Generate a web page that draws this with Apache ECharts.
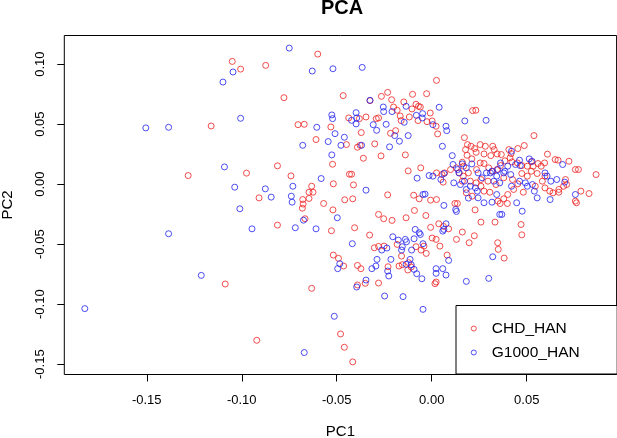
<!DOCTYPE html>
<html>
<head>
<meta charset="utf-8">
<script src="https://cdn.jsdelivr.net/npm/echarts@6/dist/echarts.min.js"></script>
<style>
html,body{margin:0;padding:0;background:#fff;}
#chart{width:617px;height:438px;}
</style>
</head>
<body>
<div id="chart"></div>
<script>
// Series names
const seriesNames = ['CHD_HAN', 'G1000_HAN'];

// Tick values
const xTicks = [-0.15, -0.10, -0.05, 0.00, 0.05];
const yTicks = [-0.15, -0.10, -0.05, 0.00, 0.05, 0.10];

// CHD_HAN points [PC1, PC2]
const chdHan = [
[0.0025,0.0865],[-0.0600,0.1084],[-0.1050,0.1023],[-0.1006,0.0959],[-0.0874,0.0990],[-0.0778,0.0721],[-0.1161,0.0485],[-0.1282,0.0072],[-0.0975,0.0092],[-0.0812,0.0153],[-0.0741,0.0069],[-0.0909,-0.0114],[-0.1087,-0.0832],[-0.0812,-0.0341],[-0.0921,-0.1301],[-0.0632,-0.0868],[-0.0480,-0.1248],[-0.0460,-0.1359],[-0.0416,-0.1481],
[-0.0704,0.0496],[-0.0671,0.0499],[-0.0609,0.0372],[-0.0466,0.0738],[-0.0522,0.0166],[-0.0518,0.0003],[-0.0433,0.0083],[-0.0422,0.0083],[-0.0412,-0.0006],[-0.0458,-0.0130],[-0.0416,-0.0122],[-0.0632,-0.0017],[-0.0646,-0.0067],[-0.0625,-0.0067],[-0.0679,-0.0128],[-0.0677,-0.0166],[-0.0681,-0.0200],[-0.0646,-0.0119],[-0.0569,-0.0161],[-0.0520,-0.0214],[-0.0667,-0.0288],[-0.0528,-0.0388],[-0.0406,-0.0363],[-0.0327,-0.0424],[-0.0518,-0.0591],[-0.0491,-0.0618],[-0.0464,-0.0682],[-0.0391,-0.0677],[-0.0373,-0.0704],[-0.0391,-0.0840],[-0.0350,-0.0826],[-0.0280,-0.0824],
[-0.0437,0.0552],[-0.0371,0.0430],[-0.0449,0.0330],[-0.0391,0.0308],[-0.0360,0.0216],[-0.0377,0.0324],[-0.0325,0.0696],[-0.0265,0.0732],[-0.0232,0.0765],[-0.0211,0.0704],[-0.0201,0.0643],[-0.0147,0.0685],[-0.0101,0.0749],[-0.0027,0.0754],[-0.0070,0.0649],[-0.0104,0.0627],[-0.0008,0.0593],[0.0002,0.0527],[0.0031,0.0419],[-0.0267,0.0236],[-0.0139,0.0244],[-0.0300,0.0336],[-0.0232,-0.0089],[-0.0124,0.0111],[-0.0058,0.0136],[-0.0095,-0.0092],[-0.0066,-0.0122],[-0.0091,-0.0219],[-0.0135,-0.0280],[-0.0031,-0.0261],[-0.0006,-0.0133],[0.0025,-0.0128],[-0.0280,-0.0252],[-0.0253,-0.0288],[-0.0209,-0.0302],[-0.0006,-0.0360],[0.0037,-0.0330],[0.0062,-0.0352],[0.0089,-0.0372],[0.0002,-0.0449],[0.0023,-0.0460],[0.0043,-0.0516],[0.0081,-0.0591],[0.0023,-0.0815],[0.0017,-0.0829],[-0.0122,-0.0654],[-0.0126,-0.0715],[-0.0108,-0.0690],[-0.0172,-0.0682],[-0.0230,-0.0688],[-0.0302,-0.0530],[-0.0280,-0.0519],[-0.0251,-0.0516],[-0.0182,-0.0502],[-0.0159,-0.0599],[-0.0041,-0.0516],[-0.0056,-0.0549],[0.0130,-0.0460],[0.0122,-0.0161],[0.0161,-0.0399],[0.0197,-0.0488],[0.0224,-0.0430],[0.0259,-0.0316],[0.0333,-0.0316],[0.0347,-0.0488],[0.0350,-0.0543],[0.0381,-0.0616],[0.0470,-0.0336],[0.0474,-0.0422],[0.0228,-0.0214],
[-0.0292,0.0546],[-0.0280,0.0552],[-0.0346,0.0560],[-0.0190,0.0446],[-0.0217,0.0424],[-0.0161,0.0530],[-0.0118,0.0560],[-0.0072,0.0530],[-0.0025,0.0521],[-0.0083,0.0666],[-0.0182,0.0616],[-0.0166,0.0568],[-0.0381,0.0546],[0.0023,0.0483],[-0.0060,0.0643],
[0.0172,0.0388],[0.0188,0.0330],[0.0207,0.0316],[0.0178,0.0288],[0.0226,0.0297],[0.0255,0.0330],[0.0282,0.0316],[0.0321,0.0316],[0.0329,0.0288],[0.0311,0.0238],[0.0275,0.0252],[0.0234,0.0266],[0.0186,0.0241],[0.0211,0.0211],[0.0161,0.0183],[0.0255,0.0177],[0.0275,0.0172],[0.0344,0.0252],[0.0366,0.0247],[0.0406,0.0288],[0.0418,0.0255],[0.0412,0.0219],[0.0453,0.0297],[0.0487,0.0322],[0.0538,0.0405],[0.0609,0.0250],[0.0650,0.0205],[0.0665,0.0200],[0.0594,0.0177],[0.0559,0.0172],[0.0524,0.0186],[0.0534,0.0150],[0.0576,0.0150],[0.0503,0.0150],[0.0474,0.0155],[0.0451,0.0177],[0.0422,0.0186],[0.0385,0.0194],[0.0362,0.0155],[0.0344,0.0122],[0.0321,0.0108],[0.0300,0.0136],[0.0236,0.0122],[0.0193,0.0094],[0.0166,0.0067],[0.0203,0.0025],[0.0234,0.0011],[0.0259,0.0039],[0.0296,0.0025],[0.0338,-0.0003],[0.0379,0.0053],[0.0425,0.0039],[0.0474,0.0089],[0.0503,0.0067],[0.0524,0.0108],[0.0555,0.0089],[0.0596,0.0067],[0.0582,0.0025],[0.0545,-0.0017],[0.0596,-0.0031],[0.0621,-0.0058],[0.0669,-0.0044],[0.0704,0.0039],[0.0756,0.0122],[0.0772,0.0122],[0.0785,-0.0058],[0.0828,-0.0078],[0.0865,0.0080],[0.0756,-0.0141],[0.0762,-0.0155],[0.0710,-0.0003],[0.0694,-0.0017],[0.0669,-0.0067],[0.0638,-0.0072],[0.0482,-0.0067],[0.0453,0.0003],[0.0431,-0.0044],[0.0400,-0.0086],[0.0379,-0.0122],[0.0348,-0.0141],[0.0306,-0.0067],[0.0275,-0.0058],[0.0259,-0.0017],[0.0213,-0.0100],[0.0182,-0.0072],[0.0135,-0.0161],[0.0360,-0.0161],[0.0398,-0.0161],[0.0168,0.0150],[0.0130,0.0136],[0.0145,0.0094],[0.0161,0.0025],[0.0099,0.0122],[0.0068,0.0094],[0.0054,0.0080],[0.0060,0.0017],[0.0025,0.0094],
[-0.0155,-0.0671],[-0.0029,-0.0577],[-0.0083,-0.0521],[0.0215,0.0613],[0.0232,0.0616],[0.0722,0.0191],[-0.0531,0.0477]
];

// G1000_HAN points [PC1, PC2]
const g1000Han = [
[-0.0750,0.1134],[-0.1099,0.0851],[-0.1046,0.0935],[-0.0629,0.0943],[-0.0520,0.0962],[-0.0366,0.0973],[-0.1505,0.0469],[-0.1385,0.0474],[-0.1006,0.0549],[-0.1091,0.0144],[-0.1037,-0.0025],[-0.1010,-0.0205],[-0.0946,-0.0372],[-0.0876,-0.0039],[-0.0845,-0.0108],[-0.1385,-0.0413],[-0.1213,-0.0760],[-0.1826,-0.1037],[-0.0671,-0.1403],[-0.0513,-0.1101],[-0.0046,-0.1043],[0.0182,-0.0810],[0.0300,-0.0785],[0.0321,-0.0605],[0.0174,0.0527],[0.0286,0.0532],
[-0.0526,0.0577],[-0.0522,0.0546],[-0.0509,0.0421],[-0.0545,0.0355],[-0.0478,0.0324],[-0.0460,0.0391],[-0.0526,0.0244],[-0.0605,0.0474],[-0.0679,0.0324],[-0.0422,0.0532],[-0.0398,0.0596],[-0.0395,0.0552],[-0.0398,0.0502],[-0.0369,0.0324],[-0.0325,0.0699],[-0.0308,0.0496],[-0.0290,0.0449],[-0.0255,0.0643],[-0.0253,0.0605],[-0.0240,0.0499],[-0.0209,0.0605],[-0.0222,0.0311],[-0.0195,0.0405],[-0.0170,0.0358],[-0.0145,0.0516],[-0.0135,0.0649],[-0.0124,0.0405],[-0.0081,0.0574],[-0.0050,0.0552],[-0.0048,0.0588],[0.0039,0.0641],[0.0006,0.0496],[0.0075,0.0483],[0.0079,0.0446],[0.0056,0.0316],[0.0108,0.0238],
[0.0112,0.0164],[0.0161,0.0169],[0.0182,0.0136],[0.0211,0.0169],[0.0137,0.0122],[0.0143,0.0094],[0.0116,0.0011],[0.0151,-0.0003],[0.0172,0.0025],[0.0182,-0.0044],[0.0193,-0.0116],[0.0203,-0.0017],[0.0230,-0.0031],[0.0240,-0.0058],[0.0265,0.0053],[0.0244,0.0094],[0.0288,0.0094],[0.0317,0.0108],[0.0348,0.0122],[0.0342,0.0067],[0.0327,0.0025],[0.0358,0.0011],[0.0379,0.0094],[0.0400,0.0150],[0.0416,0.0080],[0.0441,0.0164],[0.0466,0.0155],[0.0513,0.0211],[0.0528,0.0191],[0.0462,0.0025],[0.0493,0.0011],[0.0503,-0.0017],[0.0530,-0.0003],[0.0540,-0.0058],[0.0555,-0.0114],[0.0623,-0.0128],[0.0596,0.0094],[0.0607,0.0067],[0.0627,0.0025],[0.0689,0.0164],[0.0756,-0.0086],[0.0700,0.0017],[0.0658,0.0039],[0.0476,-0.0225],[0.0358,-0.0252],[0.0369,-0.0252],[0.0275,-0.0155],[0.0317,-0.0150],[0.0244,-0.0114],[0.0342,-0.0086],[0.0048,0.0039],[0.0064,0.0089],[0.0006,0.0067],[-0.0014,0.0072],[-0.0035,-0.0083],[-0.0077,0.0050],[0.0362,0.0177],[0.0385,0.0108],[0.0420,-0.0017],[0.0309,0.0094],[0.0462,0.0200],[0.0420,0.0275],
[-0.0497,-0.0280],[-0.0484,-0.0663],[-0.0495,-0.0704],[-0.0418,-0.0496],[-0.0346,-0.0799],[-0.0395,-0.0857],[-0.0315,-0.0704],[-0.0294,-0.0682],[-0.0288,-0.0627],[-0.0236,-0.0532],[-0.0232,-0.0724],[-0.0226,-0.0765],[-0.0205,-0.0438],[-0.0215,-0.0627],[-0.0176,-0.0466],[-0.0155,-0.0521],[-0.0139,-0.0460],[-0.0133,-0.0480],[-0.0135,-0.0668],[-0.0108,-0.0671],[-0.0093,-0.0710],[-0.0079,-0.0746],[-0.0114,-0.0627],[-0.0106,-0.0549],[-0.0087,-0.0377],[-0.0066,-0.0405],[-0.0060,-0.0419],[-0.0046,-0.0496],[-0.0052,-0.0788],[-0.0093,-0.0455],[0.0023,-0.0704],[0.0023,-0.0743],[0.0058,-0.0704],[0.0075,-0.0757],[0.0064,-0.0377],[0.0058,-0.0391],[0.0075,-0.0330],[0.0089,-0.0635],[-0.0248,-0.0932],[-0.0151,-0.0937],[0.0126,-0.0211],[0.0130,-0.0227],[0.0064,-0.0177],[-0.0046,-0.0086],[-0.0346,-0.0050],[-0.0582,0.0047],[-0.0731,-0.0017],[-0.0739,-0.0100],[-0.0735,-0.0150],[-0.0675,-0.0300],[-0.0609,-0.0372],[-0.0718,-0.0363],[-0.0159,-0.0549],[-0.0263,-0.0549],[0.0447,-0.0155]
];

const RED = '#ee2222';
const BLUE = '#2222ee';
const FONT = 'Liberation Sans, Arial, Helvetica, sans-serif';

const chart = echarts.init(document.getElementById('chart'), null, {renderer: 'canvas'});

function pointStyle(c) {
  return {color: 'transparent', borderColor: c, borderWidth: 1};
}

chart.setOption({
  animation: false,
  backgroundColor: '#fff',
  title: {
    text: 'PCA',
    left: 342,
    top: -2,
    padding: 0,
    textAlign: 'center',
    textStyle: {fontSize: 20, fontWeight: 'bold', color: '#000', fontFamily: FONT}
  },
  grid: {
    left: 64.3, right: 0.4, top: 35.5, bottom: 63.5,
    outerBoundsMode: 'none',
    containLabel: false,
    show: true, borderColor: '#000', borderWidth: 1,
    backgroundColor: 'transparent'
  },
  legend: {
    orient: 'vertical',
    left: 456,
    top: 305.5,
    padding: [15, 37.5, 13.5, 14.8],
    itemWidth: 26,
    itemHeight: 5,
    itemGap: 8,
    backgroundColor: '#fff',
    borderColor: '#000',
    borderWidth: 1,
    borderRadius: 0,
    symbolKeepAspect: true,
    selectedMode: false,
    textStyle: {fontSize: 15.5, color: '#000', fontFamily: FONT},
    data: [
      {name: seriesNames[0], icon: 'circle', itemStyle: pointStyle(RED)},
      {name: seriesNames[1], icon: 'circle', itemStyle: pointStyle(BLUE)}
    ]
  },
  xAxis: {
    type: 'value',
    min: -0.1934,
    max: 0.0973,
    name: 'PC1',
    nameLocation: 'middle',
    nameGap: 49.5,
    nameTextStyle: {fontSize: 15, color: '#000', fontFamily: FONT},
    axisLine: {show: false, onZero: false},
    splitLine: {show: false},
    axisTick: {show: true, length: 7, inside: false, customValues: xTicks, lineStyle: {color: '#000', width: 1}},
    axisLabel: {customValues: xTicks, margin: 19.5, fontSize: 13, color: '#000', fontFamily: FONT,
      formatter: v => v.toFixed(2)}
  },
  yAxis: {
    type: 'value',
    min: -0.1586,
    max: 0.1239,
    name: 'PC2',
    nameLocation: 'middle',
    nameGap: 49,
    nameRotate: 90,
    nameTextStyle: {fontSize: 15, color: '#000', fontFamily: FONT},
    axisLine: {show: false, onZero: false},
    splitLine: {show: false},
    axisTick: {show: true, length: 7, inside: false, customValues: yTicks, lineStyle: {color: '#000', width: 1}},
    axisLabel: {customValues: yTicks, margin: 17.5, rotate: 90, fontSize: 13, color: '#000', fontFamily: FONT,
      formatter: v => v.toFixed(2)}
  },
  series: [
    {
      name: seriesNames[0], type: 'scatter', data: chdHan,
      symbol: 'circle', symbolSize: 6,
      itemStyle: pointStyle(RED), silent: true
    },
    {
      name: seriesNames[1], type: 'scatter', data: g1000Han,
      symbol: 'circle', symbolSize: 6,
      itemStyle: pointStyle(BLUE), silent: true
    }
  ]
});
</script>
</body>
</html>
